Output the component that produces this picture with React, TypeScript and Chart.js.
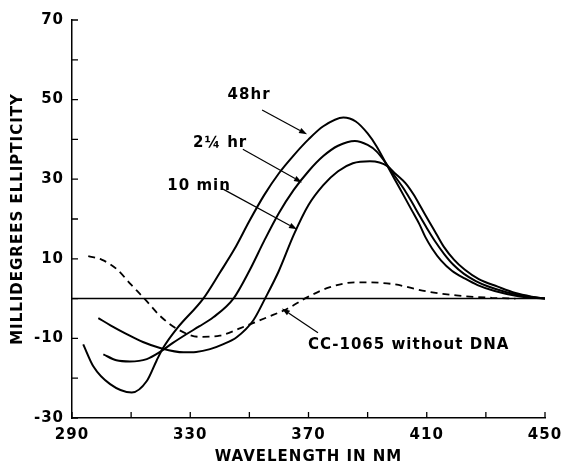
import React, { useEffect, useRef } from 'react';
import { Chart, registerables } from 'chart.js';

Chart.register(...registerables);

// Axis tick labels
const xTickLabels = [290, 330, 370, 410, 450];
const yTickLabels = [70, 50, 30, 10, -10, -30];

// 48 hr
const wl48hr = [293.8, 297.2, 302.9, 310.2, 315.3, 318.6, 320.9, 325.4, 334.4, 340, 345, 350, 355, 360, 365, 370, 375, 381.8, 386, 390, 393, 396.7, 399, 402.5, 405, 407.5, 409.5, 411.8, 414.8, 418.5, 423, 427.2, 433, 441, 450];
const ell48hr = [-11.5, -17, -21.5, -23.6, -20.7, -15.6, -12.3, -7.6, 0, 6.5, 12.5, 19.5, 26, 31.5, 36, 40, 43.3, 45.5, 44.5, 41.5, 38.3, 33.3, 30.2, 25.5, 22.1, 18.7, 15.5, 12.6, 9.6, 7, 5, 3.4, 1.9, 0.6, 0];

// 2 1/4 hr
const wl2hr = [300.6, 305, 309.6, 315.3, 319.8, 324, 328.8, 333, 337.8, 344.6, 350, 355, 360, 365, 370, 375, 380, 385.7, 390, 393, 396.7, 399, 402.5, 405, 407.6, 410.2, 412.8, 415.9, 419, 422.6, 426.6, 430.6, 437, 444, 450];
const ell2hr = [-14, -15.5, -15.8, -15.2, -13.4, -11.2, -8.9, -7, -4.7, 0, 7, 14.5, 21.5, 27.3, 32, 35.8, 38.4, 39.6, 38.6, 37, 33.5, 31, 27.3, 24.2, 20.8, 17.5, 14.4, 11.2, 8.5, 6.2, 4.4, 3.1, 1.6, 0.5, 0];

// 10 min
const wl10min = [298.9, 303, 308.5, 314, 319.8, 327.7, 332, 336.7, 341, 345.7, 351.3, 355.3, 360, 365, 370, 375, 380, 385, 390.8, 394, 396.7, 399.5, 402.8, 405.5, 408, 410.6, 413.2, 415.8, 419.2, 422.8, 427.6, 434, 440, 445.5, 450];
const ell10min = [-4.9, -6.7, -8.9, -10.9, -12.4, -13.5, -13.4, -12.7, -11.5, -9.7, -5.5, 0, 7, 16, 23.5, 28.5, 32, 34, 34.5, 34.2, 33.3, 31.3, 29, 26.2, 23, 19.6, 16.3, 13, 9.8, 7.3, 4.9, 3, 1.4, 0.5, 0];

// CC-1065 without DNA (dashed)
const wlDrug = [295.5, 300, 305, 310, 314.5, 320, 326, 333, 340, 347, 356, 363, 369.5, 377, 386, 398, 410, 420, 432, 440];
const ellDrug = [10.7, 9.8, 7.5, 3.5, 0, -4.5, -7.8, -9.6, -9.3, -7.4, -4.7, -2.5, 0.3, 2.8, 4.1, 3.7, 1.8, 0.8, 0.2, 0];

// zero baseline
const wlBase = [290, 450];
const ellBase = [0, 0];

// annotation labels: text, anchor (data coords), arrow from -> to (data coords)
const noteTexts = ['48hr', '2\u00BC hr', '10 min', 'CC-1065 without DNA'];
const noteAnchorX = [349.9, 340.1, 333, 369.8];
const noteAnchorY = [51.1, 39.0, 28.2, -11.8];
const noteAlign = ['center', 'center', 'center', 'left'];
const arrowFromX = [354.3, 347.8, 341.1, 373.2];
const arrowFromY = [47.4, 37.5, 27.5, -8.6];
const arrowToX = [369.5, 367.8, 366.1, 361];
const arrowToY = [41.3, 29.2, 17.4, -2.5];

const FONT_FAMILY = "'DejaVu Sans', 'Liberation Sans', sans-serif";

const pts = (xs: number[], ys: number[]) => xs.map((x, i) => ({ x, y: ys[i] }));

const decorPlugin = {
  id: 'decor',
  beforeDraw(chart: any) {
    chart.ctx.letterSpacing = '1px';
  },
  afterDraw(chart: any) {
    const ctx = chart.ctx as CanvasRenderingContext2D;
    const xs = chart.scales.x;
    const ys = chart.scales.y;
    ctx.save();
    ctx.strokeStyle = '#000';
    ctx.fillStyle = '#000';
    ctx.lineWidth = 1.3;
    // inward tick marks
    ctx.beginPath();
    for (const t of xs.ticks) {
      const px = xs.getPixelForValue(t.value);
      ctx.moveTo(px, ys.bottom);
      ctx.lineTo(px, ys.bottom - 6);
    }
    for (const t of ys.ticks) {
      const py = ys.getPixelForValue(t.value);
      ctx.moveTo(xs.left, py);
      ctx.lineTo(xs.left + 6, py);
    }
    ctx.stroke();

    // annotation arrows
    ctx.lineWidth = 1.2;
    for (let i = 0; i < noteTexts.length; i++) {
      const x1 = xs.getPixelForValue(arrowFromX[i]);
      const y1 = ys.getPixelForValue(arrowFromY[i]);
      const x2 = xs.getPixelForValue(arrowToX[i]);
      const y2 = ys.getPixelForValue(arrowToY[i]);
      const ang = Math.atan2(y2 - y1, x2 - x1);
      const hl = 8;
      const hw = 2.8;
      const bx = x2 - hl * Math.cos(ang);
      const by = y2 - hl * Math.sin(ang);
      ctx.beginPath();
      ctx.moveTo(x1, y1);
      ctx.lineTo(bx, by);
      ctx.stroke();
      ctx.beginPath();
      ctx.moveTo(x2, y2);
      ctx.lineTo(bx + hw * Math.sin(ang), by - hw * Math.cos(ang));
      ctx.lineTo(bx - hw * Math.sin(ang), by + hw * Math.cos(ang));
      ctx.closePath();
      ctx.fill();
    }

    // annotation texts
    ctx.font = `bold 15px ${FONT_FAMILY}`;
    (ctx as any).letterSpacing = '1px';
    ctx.textBaseline = 'middle';
    for (let i = 0; i < noteTexts.length; i++) {
      ctx.textAlign = noteAlign[i] as CanvasTextAlign;
      ctx.fillText(noteTexts[i], xs.getPixelForValue(noteAnchorX[i]), ys.getPixelForValue(noteAnchorY[i]));
    }
    ctx.restore();
  },
};

export default function App() {
  const canvasRef = useRef<HTMLCanvasElement | null>(null);

  useEffect(() => {
    if (!canvasRef.current) return;
    const solid = (xs: number[], ys: number[], label: string) => ({
      label,
      data: pts(xs, ys),
      borderColor: '#000',
      borderWidth: 2,
      pointRadius: 0,
      fill: false,
      cubicInterpolationMode: 'monotone' as const,
    });
    const chart = new Chart(canvasRef.current, {
      type: 'line',
      data: {
        datasets: [
          { ...solid(wlBase, ellBase, 'baseline'), borderWidth: 1.5 },
          solid(wl48hr, ell48hr, '48hr'),
          solid(wl2hr, ell2hr, '2\u00BC hr'),
          solid(wl10min, ell10min, '10 min'),
          { ...solid(wlDrug, ellDrug, 'CC-1065 without DNA'), borderWidth: 1.8, borderDash: [7, 5] },
        ],
      },
      options: {
        animation: false,
        responsive: true,
        maintainAspectRatio: false,
        layout: { padding: { top: 20, right: 18, left: 0, bottom: 0 } },
        plugins: { legend: { display: false }, tooltip: { enabled: false } },
        scales: {
          x: {
            type: 'linear',
            min: 290,
            max: 450,
            grid: { display: false, drawTicks: false },
            border: { display: true, color: '#000', width: 1.5 },
            ticks: {
              stepSize: 20,
              autoSkip: false,
              maxRotation: 0,
              padding: 8,
              color: '#000',
              font: { family: FONT_FAMILY, size: 15, weight: 'bold' },
              callback: (v: any) => (xTickLabels.includes(Number(v)) ? String(v) : ''),
            },
            title: {
              display: true,
              text: 'WAVELENGTH IN NM',
              color: '#000',
              padding: 0,
              font: { family: FONT_FAMILY, size: 15, weight: 'bold', lineHeight: 1 },
            },
            afterFit: (s: any) => {
              s.height = 47;
              s.paddingLeft = 0;
              s.paddingRight = 0;
            },
          },
          y: {
            type: 'linear',
            min: -30,
            max: 70,
            grid: { display: false, drawTicks: false },
            border: { display: true, color: '#000', width: 1.5 },
            ticks: {
              stepSize: 10,
              autoSkip: false,
              padding: 8,
              color: '#000',
              font: { family: FONT_FAMILY, size: 15, weight: 'bold' },
              callback: (v: any) => (yTickLabels.includes(Number(v)) ? String(v) : ''),
            },
            title: {
              display: true,
              text: 'MILLIDEGREES ELLIPTICITY',
              color: '#000',
              padding: { top: 9, bottom: 0 },
              font: { family: FONT_FAMILY, size: 15, weight: 'bold' },
            },
            afterFit: (s: any) => {
              s.width = 72;
              s.paddingTop = 0;
              s.paddingBottom = 0;
            },
          },
        },
      },
      plugins: [decorPlugin],
    });
    return () => chart.destroy();
  }, []);

  return (
    <div style={{ position: 'absolute', left: 0, top: 0, width: 563, height: 465 }}>
      <canvas ref={canvasRef} />
    </div>
  );
}
